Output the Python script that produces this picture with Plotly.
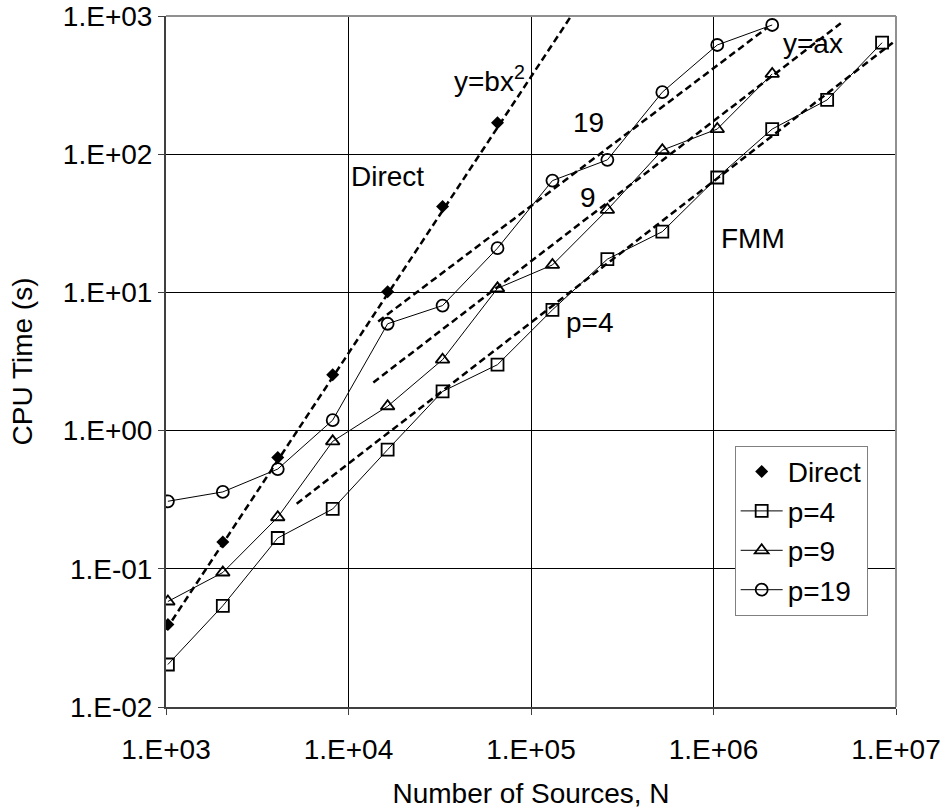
import plotly.graph_objects as go

# ---- data ----
n_sources = [1024, 2048, 4096, 8192, 16384, 32768, 65536, 131072, 262144,
             524288, 1048576, 2097152, 4194304, 8388608]

direct = [0.0395, 0.156, 0.64, 2.54, 10.1, 41.8, 169]
p4 = [0.0203, 0.054, 0.167, 0.271, 0.728, 1.92, 3.0, 7.48, 17.4, 27.5,
      67.8, 152, 247, 641]
p9 = [0.058, 0.094, 0.236, 0.836, 1.50, 3.26, 10.7, 15.8, 39.6, 107, 152, 381]
p19 = [0.308, 0.36, 0.527, 1.19, 5.93, 8.03, 20.9, 64.4, 91, 281, 617, 861]

# dashed reference lines (end points)
fit_direct_x = [1000, 175000]
fit_direct_y = [0.0363, 1112]
fit_p4_x = [5200, 9.6e6]
fit_p4_y = [0.296, 641]
fit_p9_x = [13680, 4.98e6]
fit_p9_y = [2.23, 885]
fit_p19_x = [14550, 1.95e6]
fit_p19_y = [6.17, 815]

x_tickvals = [1e3, 1e4, 1e5, 1e6, 1e7]
x_ticktext = ["1.E+03", "1.E+04", "1.E+05", "1.E+06", "1.E+07"]
y_tickvals = [1e-2, 1e-1, 1e0, 1e1, 1e2, 1e3]
y_ticktext = ["1.E-02", "1.E-01", "1.E+00", "1.E+01", "1.E+02", "1.E+03"]

FONT = "Arial, Liberation Sans, sans-serif"
FS = 28

fig = go.Figure()

dash_style = dict(color="black", width=2.5, dash="7px,4px")
for fx, fy in [(fit_direct_x, fit_direct_y), (fit_p4_x, fit_p4_y),
               (fit_p9_x, fit_p9_y), (fit_p19_x, fit_p19_y)]:
    fig.add_trace(go.Scatter(x=fx, y=fy, mode="lines", line=dash_style,
                             showlegend=False, hoverinfo="skip"))

fig.add_trace(go.Scatter(
    x=n_sources[:len(direct)], y=direct, mode="markers", name="Direct",
    marker=dict(symbol="diamond", size=10, color="black",
                line=dict(width=0))))
fig.add_trace(go.Scatter(
    x=n_sources[:len(p4)], y=p4, mode="lines+markers", name="p=4",
    line=dict(color="black", width=1),
    marker=dict(symbol="square-open", size=12, color="black",
                line=dict(width=1.8, color="black"))))
fig.add_trace(go.Scatter(
    x=n_sources[:len(p9)], y=p9, mode="lines+markers", name="p=9",
    line=dict(color="black", width=1),
    marker=dict(symbol="triangle-up-open", size=12, color="black",
                line=dict(width=1.8, color="black"))))
fig.add_trace(go.Scatter(
    x=n_sources[:len(p19)], y=p19, mode="lines+markers", name="p=19",
    line=dict(color="black", width=1),
    marker=dict(symbol="circle-open", size=12, color="black",
                line=dict(width=1.8, color="black"))))

ann_font = dict(family=FONT, size=FS, color="black")
labels = [
    ("y=bx<sup>2</sup>", 4.770, 2.544),
    ("Direct", 4.214, 1.836),
    ("19", 5.314, 2.226),
    ("9", 5.310, 1.684),
    ("FMM", 6.214, 1.388),
    ("y=ax", 6.545, 2.798),
    ("p=4", 5.323, 0.780),
]
annotations = [dict(text=t, x=lx, y=ly, xref="x", yref="y", showarrow=False,
                    font=ann_font, xanchor="center", yanchor="middle")
               for t, lx, ly in labels]

fig.update_layout(
    width=947, height=812,
    margin=dict(l=166, r=51, t=16, b=105, autoexpand=False),
    paper_bgcolor="white", plot_bgcolor="white",
    font=dict(family=FONT, size=FS, color="black"),
    annotations=annotations,
    legend=dict(x=0.779, y=0.378, xanchor="left", yanchor="top",
                bgcolor="white", bordercolor="#808080", borderwidth=1,
                font=dict(family=FONT, size=FS, color="black"),
                itemwidth=42, tracegroupgap=0),
    shapes=[
        dict(type="line", xref="paper", yref="paper", x0=0, x1=1, y0=1, y1=1,
             line=dict(color="#909090", width=2)),
        dict(type="line", xref="paper", yref="paper", x0=1, x1=1, y0=0, y1=1,
             line=dict(color="#909090", width=2)),
    ],
)

fig.update_xaxes(
    type="log", range=[3, 7], tickvals=x_tickvals, ticktext=x_ticktext,
    ticks="outside", ticklen=6, tickwidth=1, tickcolor="#404040",
    ticklabelstandoff=10,
    showline=True, linecolor="#404040", linewidth=2,
    showgrid=True, gridcolor="black", gridwidth=1,
    tickfont=dict(family=FONT, size=FS, color="black"),
    title=dict(text="Number of Sources, N",
               font=dict(family=FONT, size=FS, color="black"), standoff=20),
    automargin=False,
)
fig.update_yaxes(
    type="log", range=[-2, 3], tickvals=y_tickvals, ticktext=y_ticktext,
    ticks="outside", ticklen=6, tickwidth=1, tickcolor="#404040",
    ticklabeloverflow="allow",
    showline=True, linecolor="#404040", linewidth=2,
    showgrid=True, gridcolor="black", gridwidth=1,
    tickfont=dict(family=FONT, size=FS, color="black"),
    title=dict(text="CPU Time (s)",
               font=dict(family=FONT, size=FS, color="black"), standoff=22),
    automargin=False,
)

# remove the browser's default 8px page margin so the figure fills the window
fig.write_html("out.html",
               config={"displayModeBar": False},
               post_script="document.body.style.margin='0';")
